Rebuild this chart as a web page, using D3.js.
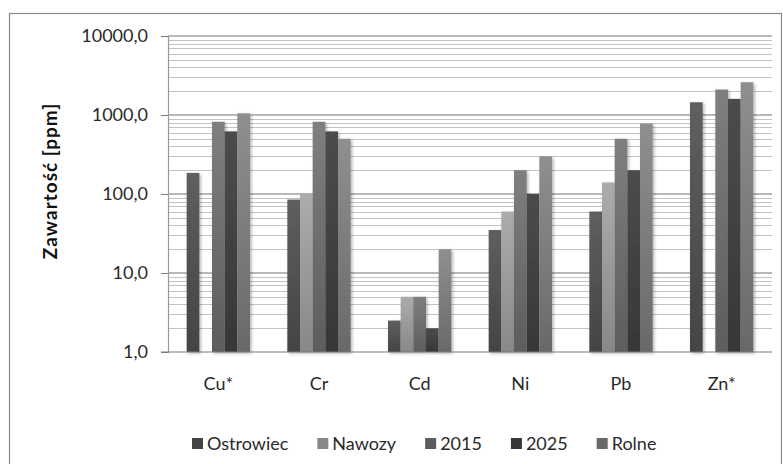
<!DOCTYPE html>
<html>
<head>
<meta charset="utf-8">
<script src="https://cdn.jsdelivr.net/npm/d3@7"></script>
<style>
  html, body { margin: 0; padding: 0; background: #fff; }
  svg { display: block; font-family: Lato, "Open Sans", sans-serif; }
</style>
</head>
<body>
<svg id="chart" width="783" height="464"></svg>
<script>
// Metal content per location / scenario, ppm (log scale)
const categories = ["Cu*", "Cr", "Cd", "Ni", "Pb", "Zn*"];
const seriesNames = ["Ostrowiec", "Nawozy", "2015", "2025", "Rolne"];
const ostrowiec = [185, 85, 2.5, 35, 60, 1450];
const nawozy    = [null, 100, 5, 60, 140, null];
const y2015     = [820, 820, 5, 200, 500, 2100];
const y2025     = [620, 620, 2, 100, 200, 1600];
const rolne     = [1050, 500, 20, 300, 780, 2600];
const yTicks = [1, 10, 100, 1000, 10000];
const yTickLabels = ["1,0", "10,0", "100,0", "1000,0", "10000,0"];
const yTitle = "Zawartość [ppm]";

const seriesValues = [ostrowiec, nawozy, y2015, y2025, rolne];
// top / bottom shades of each series' gradient
const shades = [
  ["#5f5f5f", "#444444"],
  ["#acacac", "#888888"],
  ["#7f7f7f", "#5d5d5d"],
  ["#4c4c4c", "#373737"],
  ["#8f8f8f", "#696969"]
];

const svg = d3.select("#chart");
const W = 783, H = 464;
const plot = { left: 168, right: 772, top: 36, bottom: 352 };
const textColor = "#2a2a2a";

// outer chart border
svg.append("rect")
  .attr("x", 9.5).attr("y", 13.5)
  .attr("width", W - 11).attr("height", H)
  .attr("fill", "#fff").attr("stroke", "#8a8a8a").attr("stroke-width", 1.2);

const defs = svg.append("defs");
shades.forEach((s, i) => {
  const g = defs.append("linearGradient").attr("id", "grad" + i)
    .attr("x1", 0).attr("y1", 0).attr("x2", 0).attr("y2", 1);
  g.append("stop").attr("offset", "0%").attr("stop-color", s[0]);
  g.append("stop").attr("offset", "100%").attr("stop-color", s[1]);
});
const shadow = defs.append("filter").attr("id", "shadow")
  .attr("x", "-30%").attr("y", "-10%").attr("width", "160%").attr("height", "120%");
shadow.append("feDropShadow").attr("dx", 1.5).attr("dy", 1.5)
  .attr("stdDeviation", 1.6).attr("flood-color", "#000").attr("flood-opacity", 0.3);

const y = d3.scaleLog().domain([1, 10000]).range([plot.bottom, plot.top]);
const x0 = d3.scaleBand().domain(categories).range([plot.left, plot.right]).paddingInner(0.371).paddingOuter(0.1855);
const x1 = d3.scaleBand().domain(seriesNames).range([0, x0.bandwidth()]);

// gridlines: minor at 2..9 of each decade, major at decades
const minor = [];
for (let d = 1; d < 10000; d *= 10) for (let k = 2; k <= 9; k++) minor.push(d * k);
svg.append("g").selectAll("line").data(minor).join("line")
  .attr("x1", plot.left).attr("x2", plot.right)
  .attr("y1", d => Math.round(y(d)) + 0.5).attr("y2", d => Math.round(y(d)) + 0.5)
  .attr("stroke", "#c3c3c3").attr("stroke-width", 1);
svg.append("g").selectAll("line").data(yTicks.slice(1)).join("line")
  .attr("x1", plot.left).attr("x2", plot.right)
  .attr("y1", d => y(d)).attr("y2", d => y(d))
  .attr("stroke", "#a0a0a0").attr("stroke-width", 1.6);

// bars
const groups = svg.append("g").selectAll("g").data(categories).join("g")
  .attr("transform", d => `translate(${x0(d)},0)`);
groups.selectAll("rect")
  .data((c, ci) => seriesNames.map((s, si) => ({ s, si, v: seriesValues[si][ci] })).filter(d => d.v != null))
  .join("rect")
  .attr("x", d => x1(d.s))
  .attr("width", x1.bandwidth())
  .attr("y", d => y(d.v))
  .attr("height", d => y(1) - y(d.v))
  .attr("fill", d => `url(#grad${d.si})`)
  .attr("filter", "url(#shadow)");

// y axis
const yAxis = d3.axisLeft(y).tickValues(yTicks)
  .tickFormat((d, i) => yTickLabels[i]).tickSizeOuter(0).tickSize(7).tickPadding(13);
const ya = svg.append("g").attr("transform", `translate(${plot.left},0)`).call(yAxis);
ya.select(".domain").attr("stroke", "#9a9a9a").attr("stroke-width", 1.2);
ya.selectAll(".tick line").attr("stroke", "#7a7a7a");
ya.selectAll(".tick text").attr("font-size", 18).attr("fill", textColor)
  .attr("font-family", "Lato, sans-serif");

// x axis
const xAxis = d3.axisBottom(x0).tickSize(0).tickPadding(25);
const xa = svg.append("g").attr("transform", `translate(0,${plot.bottom})`).call(xAxis);
xa.select(".domain").attr("stroke", "#7a7a7a").attr("stroke-width", 1.2)
  .attr("d", `M${plot.left - 7},0H${plot.right}`);
xa.selectAll(".tick text").attr("font-size", 18).attr("fill", textColor)
  .attr("font-family", "Lato, sans-serif");

// y axis title
svg.append("text")
  .attr("transform", `translate(57,181) rotate(-90)`)
  .attr("text-anchor", "middle")
  .attr("font-size", 19).attr("font-weight", "bold").attr("letter-spacing", 1)
  .attr("fill", "#111")
  .text(yTitle);

// legend
const legend = svg.append("g").attr("transform", "translate(192,0)");
let lx = 0;
seriesNames.forEach((s, i) => {
  const item = legend.append("g").attr("transform", `translate(${lx},0)`);
  item.append("rect").attr("x", 0).attr("y", 438).attr("width", 11).attr("height", 11)
    .attr("fill", shades[i][1]);
  const t = item.append("text").attr("x", 15).attr("y", 449.5)
    .attr("font-size", 18).attr("fill", textColor).text(s);
  lx += 15 + t.node().getComputedTextLength() + 29;
});
</script>
</body>
</html>
